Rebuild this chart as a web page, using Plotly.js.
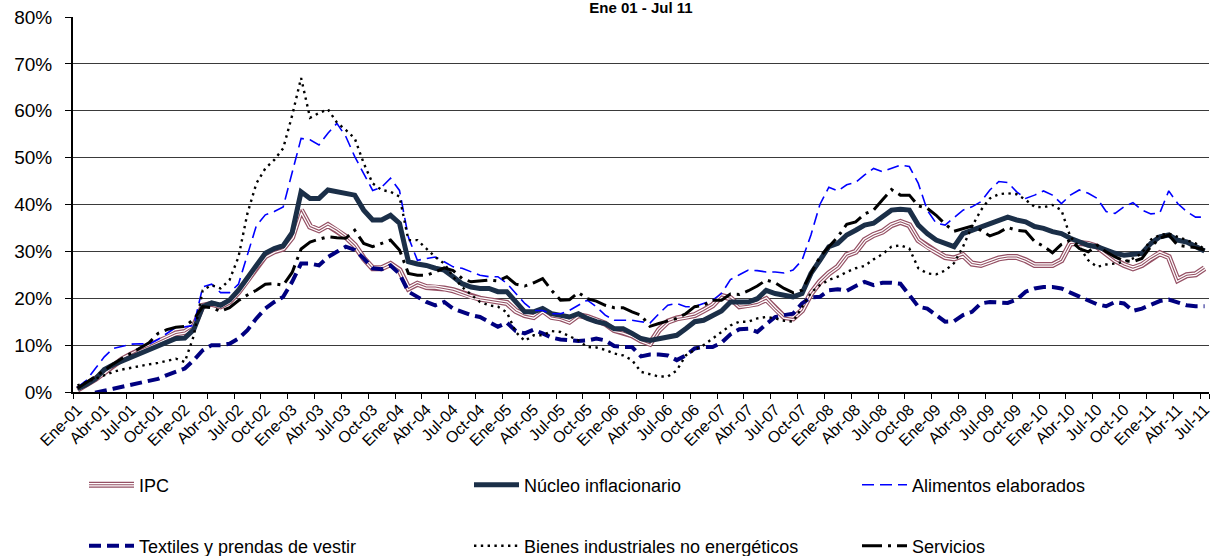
<!DOCTYPE html>
<html>
<head>
<meta charset="utf-8">
<script src="https://cdn.plot.ly/plotly-3.0.1.min.js"></script>
<style>html,body{margin:0;padding:0;background:#fff;}#chart{width:1212px;height:556px;}</style>
</head>
<body>
<div id="chart"></div>
<script>
// Month names and years for the category axis
const meses = ['Ene','Feb','Mar','Abr','May','Jun','Jul','Ago','Sep','Oct','Nov','Dic'];
const years = ['01','02','03','04','05','06','07','08','09','10','11'];
const lastMonthIndex2011 = 6; // Jul-11

// Series values (% variation), Ene-01 .. Jul-11
const ipc = [
 0.5, 1.6, 2.8, 4.2, 5.8, 7.0, 8.0, 9.0, 9.8, 10.7, 11.5, 12.5, 12.8, 14.0, 18.4, 18.8, 18.3, 19.3, 21.3, 23.8, 26.7, 29.0, 30.0, 30.6, 33.0,
 38.8, 35.3, 34.5, 35.6, 34.5, 33.1, 31.3, 28.5, 26.4, 26.4, 27.3, 26.0, 22.1, 23.1, 22.4, 22.4, 22.1, 21.7, 21.0, 20.3, 19.9, 19.6, 19.3, 19.0, 17.3,
 16.4, 16.0, 17.4, 16.0, 15.7, 15.0, 16.4, 16.0, 15.3, 14.6, 13.2, 12.8, 12.1, 11.0, 10.3, 13.2, 15.0, 15.7, 16.0, 16.4, 17.4, 18.5, 20.5, 20.0, 18.3,
 18.5, 18.9, 19.8, 17.8, 16.0, 15.7, 17.4, 21.0, 23.5, 25.3, 26.7, 29.2, 29.9, 32.4, 33.5, 34.2, 35.6, 36.3, 35.6, 32.4, 31.0, 29.9, 28.8, 28.5,
 29.2, 27.4, 27.1, 27.8, 28.5, 28.8, 28.8, 28.1, 27.1, 27.1, 27.1, 28.1, 31.7, 31.8, 31.6, 31.0, 29.6, 28.1, 27.1, 26.4, 27.1, 28.5, 29.6, 28.8, 23.9, 24.9, 25.1, 26.4
];
const nucleo = [
 0.7, 1.6, 2.8, 4.8, 5.8, 6.6, 7.4, 8.2, 8.9, 9.6, 10.6, 11.4, 11.5, 13.3, 18.2, 19.0, 18.5, 19.6, 21.7, 24.3, 27.2, 29.6, 30.6, 31.2, 34.0,
 42.7, 41.3, 41.3, 43.1, 42.7, 42.4, 42.0, 38.8, 36.7, 36.7, 37.7, 36.0, 27.8, 27.3, 27.0, 26.4, 26.0, 24.6, 23.1, 22.4, 22.1, 22.1, 21.4, 21.4, 19.2,
 17.1, 17.1, 17.8, 16.7, 16.4, 16.0, 16.7, 15.7, 15.0, 14.6, 13.5, 13.5, 12.5, 11.4, 11.0, 11.4, 11.6, 12.1, 13.5, 15.0, 15.3, 16.4, 17.3, 19.2, 19.2,
 19.2, 19.9, 21.7, 21.0, 20.7, 20.3, 21.0, 25.3, 28.1, 31.0, 31.7, 33.5, 34.5, 35.6, 36.0, 37.4, 38.8, 39.0, 38.8, 35.6, 33.8, 32.4, 31.6, 31.0,
 33.8, 34.5, 35.3, 36.0, 36.7, 37.3, 36.7, 36.3, 35.3, 34.9, 34.2, 33.8, 32.8, 32.0, 31.3, 31.0, 30.3, 29.6, 29.2, 29.4, 29.6, 31.7, 33.1, 33.5, 32.4, 32.0, 31.0, 30.1
];
const alimentos = [
 1.0, 2.5, 5.0, 7.5, 9.3, 9.8, 10.2, 10.3, 10.2, 11.2, 12.5, 13.8, 13.9, 14.2, 22.4, 23.0, 21.2, 21.2, 23.0, 29.0, 35.5, 37.8, 38.5, 39.5, 46.5,
 54.1, 53.8, 52.7, 55.2, 57.3, 54.5, 50.2, 46.6, 43.0, 43.7, 45.6, 43.0, 33.0, 28.1, 28.5, 28.8, 27.8, 26.7, 26.4, 25.7, 24.9, 24.6, 24.6, 23.2, 21.0,
 18.9, 17.4, 17.4, 16.7, 16.7, 17.4, 18.5, 19.6, 18.2, 16.4, 15.3, 15.3, 15.3, 15.0, 14.7, 16.7, 18.5, 18.9, 18.2, 18.2, 18.9, 19.6, 21.0, 24.0, 25.0,
 26.0, 25.9, 25.6, 25.6, 25.4, 26.0, 28.1, 33.5, 40.0, 43.7, 42.9, 44.2, 44.7, 46.3, 47.7, 47.0, 47.7, 48.4, 48.1, 44.5, 38.8, 36.0, 35.6, 37.3,
 38.8, 39.5, 40.6, 43.1, 44.9, 44.7, 42.7, 41.3, 42.0, 42.9, 42.0, 40.2, 42.0, 43.1, 42.4, 41.3, 38.5, 38.1, 39.5, 40.4, 38.8, 38.0, 38.2, 42.9, 40.2, 38.5, 37.3, 37.3
];
const textiles = [
 -1.0, -0.5, 0.0, 0.3, 0.7, 1.1, 1.4, 1.8, 2.4, 2.8, 3.6, 4.3, 5.0, 6.8, 8.9, 10.0, 10.0, 10.3, 11.4, 13.2, 15.7, 17.8, 19.2, 20.3, 23.5,
 27.4, 27.4, 27.0, 28.8, 29.9, 31.0, 30.3, 28.5, 26.4, 26.2, 27.0, 25.2, 21.4, 20.3, 19.2, 18.5, 19.2, 17.8, 17.1, 16.4, 16.0, 14.9, 13.9, 14.8, 13.0,
 12.5, 13.3, 12.5, 11.6, 11.2, 11.0, 10.9, 11.0, 11.4, 11.0, 9.8, 9.6, 9.6, 7.6, 8.0, 8.0, 7.8, 6.8, 7.8, 9.3, 9.6, 9.6, 10.5, 12.3, 13.4,
 13.5, 12.8, 14.5, 16.0, 16.4, 16.7, 18.9, 20.2, 20.3, 21.7, 21.9, 21.6, 22.6, 23.5, 22.8, 23.3, 23.3, 23.1, 20.7, 18.2, 17.8, 16.4, 15.0, 15.1,
 16.4, 17.1, 18.9, 19.2, 19.2, 19.0, 19.7, 21.4, 22.1, 22.4, 22.4, 22.1, 21.2, 20.3, 19.6, 18.7, 18.3, 19.2, 18.9, 17.3, 17.8, 18.7, 19.4, 19.7, 19.0, 18.5, 18.3, 18.3
];
const bienes = [
 1.4, 2.1, 2.8, 3.6, 4.3, 4.8, 5.2, 5.5, 5.9, 6.2, 6.6, 7.1, 6.4, 12.0, 21.7, 22.8, 22.1, 23.9, 28.8, 38.1, 44.5, 47.7, 49.5, 52.0, 59.0,
 67.0, 58.5, 59.5, 60.3, 57.5, 55.9, 54.1, 48.8, 44.5, 43.1, 42.7, 41.7, 32.4, 32.4, 30.6, 28.8, 27.4, 24.6, 22.4, 20.7, 19.2, 18.5, 18.2, 17.0, 12.8,
 10.9, 12.1, 12.1, 13.0, 12.8, 11.9, 11.0, 9.6, 9.5, 9.0, 8.2, 7.8, 6.8, 4.3, 3.8, 3.3, 3.3, 4.6, 7.8, 9.0, 10.0, 11.4, 12.8, 14.2, 15.0,
 15.0, 15.7, 16.0, 15.7, 15.2, 15.0, 18.2, 21.2, 22.8, 23.9, 24.6, 25.6, 26.4, 26.9, 28.3, 29.4, 31.0, 31.3, 30.6, 26.4, 25.3, 25.1, 25.9, 27.5,
 31.0, 35.3, 38.8, 41.3, 42.2, 42.4, 42.2, 41.0, 39.5, 39.4, 39.9, 38.8, 33.1, 31.0, 28.1, 26.7, 27.2, 27.4, 27.8, 28.5, 29.6, 32.5, 33.5, 33.8, 33.1, 32.4, 31.7, 30.5
];
const servicios = [
 0.8, 2.0, 3.3, 4.6, 6.0, 7.2, 8.3, 9.4, 10.5, 12.5, 13.3, 13.8, 14.0, 15.5, 18.2, 18.0, 17.2, 18.0, 19.5, 20.7, 21.7, 23.0, 23.1, 22.8, 25.5,
 30.5, 32.0, 32.6, 33.1, 32.9, 32.8, 34.5, 31.7, 31.0, 31.7, 32.4, 30.3, 25.3, 24.9, 24.9, 25.6, 26.5, 25.9, 24.2, 23.5, 23.7, 23.9, 23.7, 24.6, 23.0,
 22.6, 23.3, 24.2, 21.7, 19.6, 19.7, 21.2, 19.9, 19.4, 18.5, 18.0, 18.0, 17.1, 16.4, 14.0, 14.6, 15.2, 15.7, 16.7, 18.2, 18.5, 19.6, 19.6, 20.9, 20.8,
 21.6, 22.6, 23.9, 23.3, 22.1, 21.2, 21.7, 25.3, 28.8, 31.0, 33.1, 35.8, 36.3, 38.0, 38.8, 41.0, 43.2, 42.0, 42.0, 39.7, 39.2, 37.7, 35.8, 34.3,
 34.9, 35.4, 34.5, 33.3, 34.0, 35.1, 34.5, 34.3, 32.1, 31.1, 29.7, 31.5, 32.4, 30.6, 29.9, 31.3, 29.9, 28.8, 28.0, 27.8, 28.5, 31.0, 32.8, 33.5, 31.3, 31.1, 30.8, 30.3
];

const seriesNames = ['IPC','Núcleo inflacionario','Alimentos elaborados','Textiles y prendas de vestir','Bienes industriales no energéticos','Servicios'];
const titleText = 'Ene 01 - Jul 11';

// Build month categories
const categories = [];
years.forEach((y, yi) => {
  meses.forEach((m, mi) => {
    if (yi === years.length - 1 && mi > lastMonthIndex2011) return;
    categories.push(m + '-' + y);
  });
});
const tickLabels = categories.filter((c, i) => i % 3 === 0);

const FONT = 'Liberation Sans, Arial, sans-serif';
const IPC_COLOR = '#955064';

function tr(y, name, line, legend) {
  return {
    type: 'scatter', mode: 'lines', x: categories, y: y, name: name,
    line: Object.assign({shape: 'linear'}, line), legend: legend, hoverinfo: 'skip'
  };
}

const traces = [
  tr(ipc, seriesNames[0], {color: IPC_COLOR, width: 6}, 'legend'),
  tr(ipc, seriesNames[0], {color: '#ffffff', width: 3.6}, 'legend7'),
  tr(ipc, seriesNames[0], {color: IPC_COLOR, width: 1.1}, 'legend8'),
  tr(nucleo, seriesNames[1], {color: '#1b2f48', width: 5}, 'legend2'),
  tr(alimentos, seriesNames[2], {color: '#0000ff', width: 1.6, dash: '12px,6px'}, 'legend3'),
  tr(textiles, seriesNames[3], {color: '#000080', width: 4, dash: '12px,6px'}, 'legend4'),
  tr(bienes, seriesNames[4], {color: '#000000', width: 2.4, dash: '2.4px,4.4px'}, 'legend5'),
  tr(servicios, seriesNames[5], {color: '#000000', width: 3, dash: '20px,6px,3px,6px'}, 'legend6')
];

const L = 73, R = 3, T = 17, B = 164;
const W = 1212, H = 556;
const pw = W - L - R, ph = H - T - B;
function px2x(px) { return (px - L) / pw; }
function py2y(py) { return (H - B - py) / ph; }

const row1 = 485, row2 = 546;
const col = [84, 469, 857];
function leg(xpx, ypx, transparentText) {
  return {
    orientation: 'v', x: px2x(xpx), xanchor: 'left', y: py2y(ypx), yanchor: 'middle',
    bgcolor: 'rgba(0,0,0,0)', borderwidth: 0, itemwidth: 45,
    font: {family: FONT, size: 18, color: transparentText ? 'rgba(0,0,0,0)' : '#000000'},
    itemclick: false, itemdoubleclick: false
  };
}

const layout = {
  width: W, height: H,
  margin: {l: L, r: R, t: T, b: B, pad: 0, autoexpand: false},
  paper_bgcolor: '#ffffff', plot_bgcolor: '#ffffff',
  font: {family: FONT, color: '#000000'},
  showlegend: true,
  title: {
    text: '<b>' + titleText + '</b>', font: {family: FONT, size: 15, color: '#000000'},
    x: 0.5, xref: 'paper', xanchor: 'center', y: 0.995, yref: 'container', yanchor: 'top'
  },
  xaxis: {
    type: 'category', categoryorder: 'array', categoryarray: categories,
    tickmode: 'array', tickvals: tickLabels, ticktext: tickLabels,
    tickangle: -45, tickfont: {family: FONT, size: 16, color: '#000000'},
    ticks: 'outside', ticklen: 5, tickwidth: 1, tickcolor: '#000000', tickson: 'boundaries',
    showline: true, linecolor: '#000000', linewidth: 2, showgrid: false, zeroline: false,
    range: [-0.5, categories.length - 0.5], fixedrange: true
  },
  yaxis: {
    range: [0, 80], tickmode: 'linear', tick0: 0, dtick: 10, ticksuffix: '%',
    tickfont: {family: FONT, size: 19, color: '#000000'},
    ticks: 'outside', ticklen: 6, tickwidth: 1, tickcolor: '#000000', ticklabelstandoff: 9,
    showline: true, linecolor: '#000000', linewidth: 2,
    showgrid: true, gridcolor: '#3a3a3a', gridwidth: 1, zeroline: false, fixedrange: true
  },
  legend: leg(col[0], row1),
  legend2: leg(col[1], row1),
  legend3: leg(col[2], row1),
  legend4: leg(col[0], row2),
  legend5: leg(col[1], row2),
  legend6: leg(col[2], row2),
  legend7: leg(col[0], row1, true),
  legend8: leg(col[0], row1, true)
};

Plotly.newPlot('chart', traces, layout, {displayModeBar: false, staticPlot: true});
</script>
</body>
</html>
